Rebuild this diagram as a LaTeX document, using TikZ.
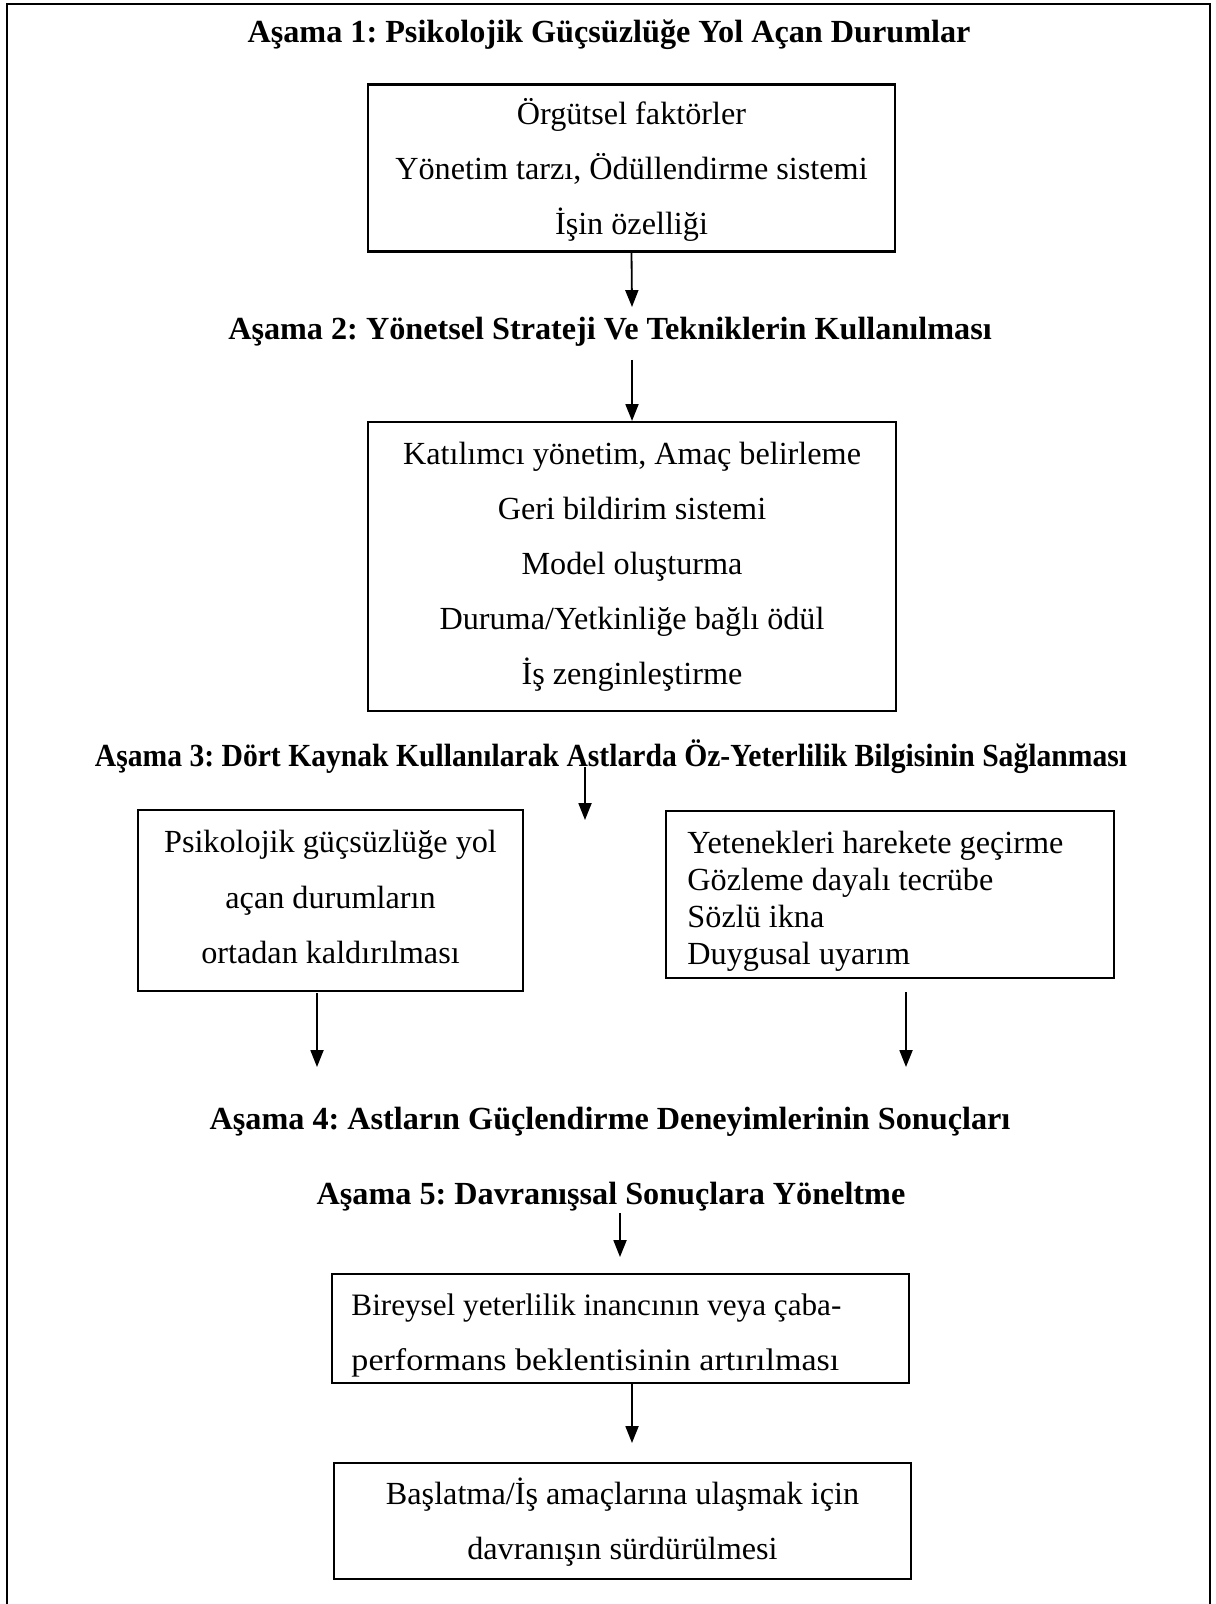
\documentclass[tikz,border=0pt]{standalone}
\usepackage{fontspec}
\usepackage{graphicx}
\setmainfont{Liberation Serif}
\usetikzlibrary{arrows.meta}
\frenchspacing
\begin{document}
\begin{tikzpicture}[x=0.385pt,y=-0.385pt,
  stage/.style={font=\bfseries\fontsize{12.4}{14}\selectfont, inner sep=0pt},
  box/.style={draw, line width=0.8pt, align=center, inner sep=0pt,
    font=\fontsize{12.4}{21.2}\selectfont},
  txt/.style={align=center, inner sep=0pt, font=\fontsize{12.4}{21.2}\selectfont},
  ltxt/.style={anchor=west, align=left, inner sep=0pt, font=\fontsize{12.4}{21.2}\selectfont},
  sz/.style 2 args={minimum width=#1*0.385pt, minimum height=#2*0.385pt},
  dn/.style={yshift=-#1*0.385pt},
  arr/.style={line width=0.7pt, -{Triangle[length=6.5pt,width=5pt]}}]
\useasboundingbox (0,0) rectangle (1216,1604);
% open frame round the whole figure
\draw[line width=0.8pt] (7,1604) -- (7,4) -- (1210,4) -- (1210,1604);

% stage headings
\node[stage] (t1) at (609,35)   {Aşama 1: Psikolojik Güçsüzlüğe Yol Açan Durumlar};
\node[stage] (t2) at (610,332)  {Aşama 2: Yönetsel Strateji Ve Tekniklerin Kullanılması};
\node[stage] (t3) at (611,757)  {\scalebox{0.92}[1]{Aşama 3: Dört Kaynak Kullanılarak Astlarda Öz-Yeterlilik Bilgisinin Sağlanması}};
\node[stage] (t4) at (610,1122) {Aşama 4: Astların Güçlendirme Deneyimlerinin Sonuçları};
\node[stage] (t5) at (611,1197) {Aşama 5: Davranışsal Sonuçlara Yöneltme};

% boxes
\node[box, sz={527}{167}] (b1) at (631.5,168) {};
\node[txt] (t1b) at ([dn=2]b1.center)
  {Örgütsel faktörler\\Yönetim tarzı, Ödüllendirme sistemi\\İşin özelliği};
\node[box, sz={528}{289}] (b2) at (632,566.5)
  {Katılımcı yönetim, Amaç belirleme\\Geri bildirim sistemi\\Model oluşturma\\Duruma/Yetkinliğe bağlı ödül\\İş zenginleştirme};
\node[box, sz={385}{181}] (b3l) at (330.5,900.5) {};
\node[txt] (t3l) at ([dn=-3.5]b3l.center)
  {Psikolojik güçsüzlüğe yol\\açan durumların\\ortadan kaldırılması};
\node[box, sz={448}{167}] (b3r) at (890,894.5) {};
\node[ltxt, font=\fontsize{12.4}{14.25}\selectfont]
  (t3r) at ([xshift=22*0.385pt, dn=7]b3r.west)
  {Yetenekleri harekete geçirme\\Gözleme dayalı tecrübe\\Sözlü ikna\\Duygusal uyarım};
\node[box, sz={577}{109}] (b5a) at (620.5,1328.5) {};
% justified two-line paragraph: second line spread to the first one's width
\node[ltxt, font=\fontsize{12}{21.2}\selectfont] (t5a) at ([xshift=20*0.385pt, dn=7]b5a.west)
  {Bireysel yeterlilik inancının veya çaba-\\\resizebox{187.8pt}{\height}{performans beklentisinin artırılması}};
\node[box, sz={577}{116}] (b5b) at (622.5,1521) {};
\node[txt] (t5b) at ([dn=1.5]b5b.center)
  {Başlatma/İş amaçlarına ulaşmak için\\davranışın sürdürülmesi};

% arrow ends
\coordinate (e1) at (632,307);
\coordinate (s2) at (632,360);
\coordinate (s3) at (585,767);
\coordinate (e3) at (585,820);
\coordinate (s4l) at (317,993);
\coordinate (e4l) at (317,1067);
\coordinate (s4r) at (906,992);
\coordinate (e4r) at (906,1067);
\coordinate (s5) at (620,1213);
\coordinate (e5) at (620,1257);
\coordinate (e6) at (632,1443);

% connectors
\draw[arr] (b1.south) -- (e1);
\draw[arr] (s2) -- (b2.north);
\draw[arr] (s3) -- (e3);
\draw[arr] (s4l) -- (e4l);
\draw[arr] (s4r) -- (e4r);
\draw[arr] (s5) -- (e5);
\draw[arr] (b5a.south -| e6) -- (e6);
\end{tikzpicture}
\end{document}
